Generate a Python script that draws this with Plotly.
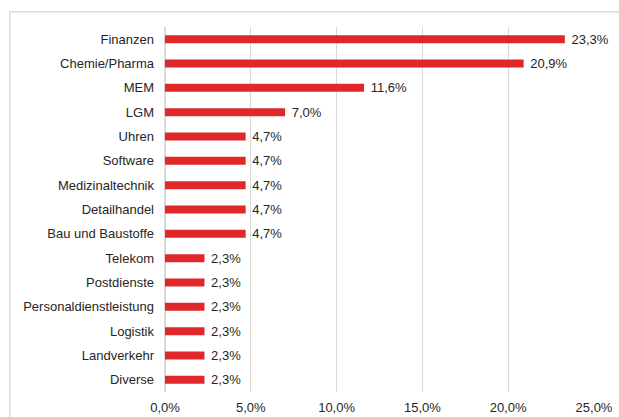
import plotly.graph_objects as go

# Branchen und Anteile (in Prozent)
branchen = ["Finanzen", "Chemie/Pharma", "MEM", "LGM", "Uhren", "Software",
            "Medizinaltechnik", "Detailhandel", "Bau und Baustoffe", "Telekom",
            "Postdienste", "Personaldienstleistung", "Logistik", "Landverkehr",
            "Diverse"]
anteile = [23.3, 20.9, 11.6, 7.0, 4.7, 4.7, 4.7, 4.7, 4.7, 2.3, 2.3, 2.3, 2.3, 2.3, 2.3]
tick_vals = [0, 5, 10, 15, 20, 25]
tick_text = ["0,0%", "5,0%", "10,0%", "15,0%", "20,0%", "25,0%"]

# value labels with a little gap after the bar end
labels = ["\u00a0" + f"{v:.1f}".replace(".", ",") + "%" for v in anteile]

fig = go.Figure()
fig.add_trace(go.Bar(
    x=anteile,
    y=branchen,
    orientation="h",
    width=0.33,
    marker=dict(color="#E0282B", line=dict(width=0)),
    text=labels,
    textposition="outside",
    constraintext="none",
    cliponaxis=False,
    textfont=dict(size=13, color="#262626"),
))

# light frame around the chart
fig.add_shape(type="rect", xref="paper", yref="paper",
              x0=-0.362, x1=1.2, y0=-0.2, y1=1.042,
              line=dict(color="#dcdcdc", width=1.5), layer="below")

fig.update_layout(
    width=619, height=417,
    margin=dict(l=165, r=25, t=27, b=25),
    paper_bgcolor="white",
    plot_bgcolor="white",
    font=dict(family="Liberation Sans, Arial, sans-serif", size=13, color="#262626"),
    showlegend=False,
    xaxis=dict(
        range=[0, 25],
        tickvals=tick_vals,
        ticktext=tick_text,
        showgrid=True,
        gridcolor="#d9d9d9",
        gridwidth=1,
        zeroline=True,
        zerolinecolor="#d9d9d9",
        showline=False,
        ticks="",
        automargin=False,
        ticklabeloverflow="allow",
        ticklabelstandoff=6,
    ),
    yaxis=dict(
        categoryorder="array",
        categoryarray=branchen[::-1],
        showgrid=False,
        zeroline=False,
        showline=False,
        ticks="",
        automargin=False,
        ticklabelstandoff=10,
    ),
)

# drop the page's default 8px body margin so the figure fills the window
fig.write_html("out.html",
               config={"displayModeBar": False},
               post_script="document.body.style.margin='0';"
                           "document.body.style.overflow='hidden';")
